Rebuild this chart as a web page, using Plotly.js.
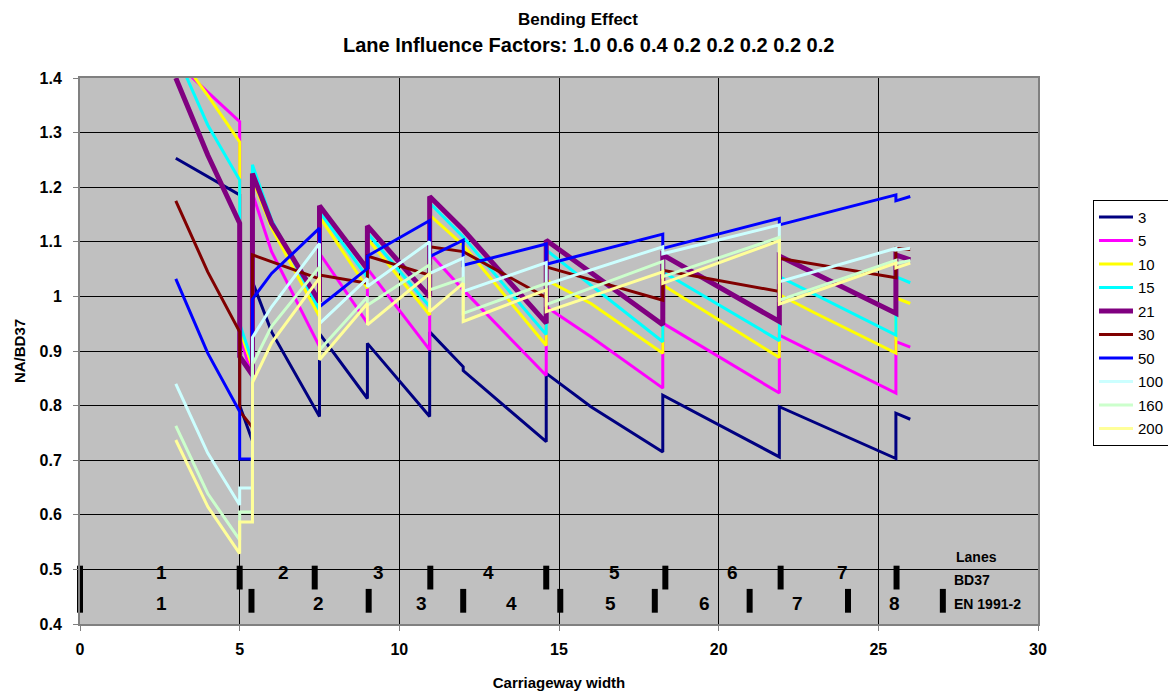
<!DOCTYPE html>
<html>
<head>
<meta charset="utf-8">
<script src="https://cdn.plot.ly/plotly-3.0.1.min.js"></script>
<style>html,body{margin:0;padding:0;background:#fff;}#chart{width:1168px;height:692px;}</style>
</head>
<body>
<div id="chart"></div>
<script>
// Carriageway widths at which the ratio was sampled (duplicated widths = jumps at lane boundaries)
const widths = [3, 4, 5, 5, 5.4, 5.4, 6, 7.5, 7.5, 9, 9, 10.95, 10.95, 12, 12, 14.6, 14.6, 16, 18.25, 18.25, 21.9, 21.9, 23, 25.55, 25.55, 26];

const seriesNames = ['3', '5', '10', '15', '21', '30', '50', '100', '160', '200'];
const seriesColors = ['#000080', '#FF00FF', '#FFFF00', '#00FFFF', '#800080', '#800000', '#0000FF', '#CCFFFF', '#CCFFCC', '#FFFF99'];

const s3   = [1.253, null, 1.186, 0.80, 0.735, 1.027, 0.935, 0.780, 0.932, 0.813, 0.914, 0.780, 0.935, 0.871, 0.864, 0.734, 0.859, 0.798, 0.715, 0.819, 0.706, 0.798, null, 0.703, 0.786, 0.775];
const s5   = [1.430, 1.374, 1.320, 0.93, 0.850, 1.189, 1.082, 0.908, 1.079, 0.951, 1.051, 0.902, 1.079, 1.012, null, 0.855, 0.981, 0.926, 0.832, 0.951, 0.823, 0.929, null, 0.823, 0.917, 0.907];
const s10  = [1.448, 1.368, 1.283, 0.94, 0.870, 1.215, 1.125, 0.963, 1.146, 1.015, 1.106, 0.966, 1.149, 1.094, null, 0.910, 1.030, 0.987, 0.896, 1.021, 0.888, 1.003, 0.970, 0.896, 0.997, 0.987];
const s15  = [1.446, 1.314, 1.213, 0.95, 0.880, 1.241, 1.140, 0.975, 1.155, 1.035, 1.116, 0.981, 1.171, 1.109, null, 0.930, 1.085, null, 0.917, 1.045, 0.919, 1.036, null, 0.929, 1.036, 1.025];
const s21  = [1.400, 1.259, 1.134, 0.89, 0.856, 1.225, 1.134, 0.990, 1.166, 1.050, 1.129, 0.999, 1.183, 1.122, null, 0.951, 1.103, null, 0.948, 1.076, 0.954, 1.074, null, 0.969, 1.076, 1.067];
const s30  = [1.175, 1.045, 0.935, 0.79, 0.760, 1.076, null, 1.032, 1.039, 1.024, 1.074, 1.039, 1.091, 1.082, null, 0.998, 1.054, null, 0.993, 1.048, 1.009, 1.070, null, 1.034, 1.088, 1.086];
const s50  = [1.032, 0.896, 0.789, 0.702, 0.702, 0.995, 1.042, 1.125, 0.981, 1.051, 1.074, 1.139, 1.073, 1.103, 1.057, 1.096, 1.059, null, 1.114, 1.088, 1.143, 1.131, null, 1.186, 1.175, 1.183];
const s100 = [0.840, 0.713, 0.618, 0.649, 0.649, 0.925, 0.981, 1.097, 0.950, 1.033, 1.018, 1.100, 1.042, 1.070, 1.009, 1.062, 1.022, null, 1.091, 1.078, 1.131, 1.027, null, 1.088, 1.085, 1.088];
const s160 = [0.763, 0.639, 0.554, 0.605, 0.605, 0.875, 0.945, 1.054, 0.902, 0.999, 0.984, 1.058, 1.012, 1.033, 0.969, 1.024, 0.985, null, 1.064, 1.036, 1.108, 0.993, null, 1.066, 1.060, 1.066];
const s200 = [0.737, 0.615, 0.529, 0.587, 0.587, 0.842, 0.915, 1.034, 0.884, 0.987, 0.948, 1.042, 0.972, 1.024, 0.954, 1.012, 0.972, null, 1.045, 1.024, 1.102, 0.986, null, 1.061, 1.052, 1.061];
const seriesValues = [s3, s5, s10, s15, s21, s30, s50, s100, s160, s200];

// Lane boundary markers and lane numbers
const bd37Bounds = [0, 5.0, 7.35, 10.97, 14.6, 18.33, 21.94, 25.57];
const enBounds = [0, 5.37, 9.04, 12.0, 15.04, 18.0, 20.97, 24.05, 27.02];
const bd37LaneX = [2.56, 6.36, 9.34, 12.78, 16.74, 20.43, 23.89];
const bd37LaneLabels = ['1', '2', '3', '4', '5', '6', '7'];
const enLaneX = [2.56, 7.46, 10.7, 13.5, 16.6, 19.56, 22.48, 25.5];
const enLaneLabels = ['1', '2', '3', '4', '5', '6', '7', '8'];

const titleLines = ['Bending Effect', 'Lane Influence Factors: 1.0 0.6 0.4 0.2 0.2 0.2 0.2 0.2'];

const FONT = 'Liberation Sans, Arial, sans-serif';

const traces = seriesNames.map((n, i) => ({
  type: 'scatter', mode: 'lines', name: n,
  x: widths, y: seriesValues[i], connectgaps: true,
  line: {color: seriesColors[i], width: n === '21' ? 5 : 3},
  legendgroup: 'g' + i
}));

const markerStyle = {symbol: 'line-ns', size: 17, color: '#000', line: {color: '#000', width: 6}};
traces.push({type: 'scatter', mode: 'markers', x: bd37Bounds, y: bd37Bounds.map(() => 0.485),
  marker: markerStyle, showlegend: false, cliponaxis: false, hoverinfo: 'skip'});
traces.push({type: 'scatter', mode: 'markers', x: enBounds, y: enBounds.map(() => 0.4425),
  marker: markerStyle, showlegend: false, cliponaxis: false, hoverinfo: 'skip'});

const plotLeft = 80, plotW = 958, plotTop = 78, plotH = 546, figH = 692;
const annotations = [];
// chart title (two centred lines)
annotations.push({x: (578 - plotLeft) / plotW, y: (figH - 20 - (figH - plotTop - plotH)) / plotH, xref: 'paper', yref: 'paper',
  text: titleLines[0], showarrow: false, xanchor: 'center', yanchor: 'middle',
  font: {family: FONT, size: 17, weight: 'bold', color: '#000'}});
annotations.push({x: (588 - plotLeft) / plotW, y: (figH - 45 - (figH - plotTop - plotH)) / plotH, xref: 'paper', yref: 'paper',
  text: titleLines[1], showarrow: false, xanchor: 'center', yanchor: 'middle',
  font: {family: FONT, size: 20, weight: 'bold', color: '#000'}});
bd37LaneX.forEach((x, i) => annotations.push({x: x, y: 0.4952, xref: 'x', yref: 'y', text: bd37LaneLabels[i], showarrow: false,
  font: {family: FONT, size: 19, weight: 'bold', color: '#000'}}));
enLaneX.forEach((x, i) => annotations.push({x: x, y: 0.4375, xref: 'x', yref: 'y', text: enLaneLabels[i], showarrow: false,
  font: {family: FONT, size: 19, weight: 'bold', color: '#000'}}));
annotations.push({x: 27.38, y: 0.5227, xref: 'x', yref: 'y', xanchor: 'left', text: 'Lanes', showarrow: false,
  font: {family: FONT, size: 14, weight: 'bold', color: '#000'}});
annotations.push({x: 27.32, y: 0.4806, xref: 'x', yref: 'y', xanchor: 'left', text: 'BD37', showarrow: false,
  font: {family: FONT, size: 14, weight: 'bold', color: '#000'}});
annotations.push({x: 27.32, y: 0.4366, xref: 'x', yref: 'y', xanchor: 'left', text: 'EN 1991-2', showarrow: false,
  font: {family: FONT, size: 14, weight: 'bold', color: '#000'}});

const layout = {
  width: 1168, height: 692,
  paper_bgcolor: '#FFFFFF', plot_bgcolor: '#C0C0C0',
  margin: {l: 80, r: 130, t: 78, b: 68, autoexpand: false},
  font: {family: FONT, color: '#000'},
  xaxis: {range: [0, 30], dtick: 5, tick0: 0, showgrid: true, gridcolor: '#000', gridwidth: 1, zeroline: false,
    showline: true, mirror: true, linecolor: '#808080', linewidth: 2,
    ticks: 'outside', ticklen: 5, tickcolor: '#808080', ticklabelstandoff: 5,
    tickfont: {family: FONT, size: 16, weight: 'bold', color: '#000'},
    title: {text: 'Carriageway width', standoff: 20, font: {family: FONT, size: 15, weight: 'bold', color: '#000'}}},
  yaxis: {range: [0.4, 1.4], dtick: 0.1, tick0: 0.4, showgrid: true, gridcolor: '#000', gridwidth: 1, zeroline: false,
    showline: true, mirror: true, linecolor: '#808080', linewidth: 2,
    ticks: 'outside', ticklen: 5, tickcolor: '#808080', ticklabelstandoff: 8,
    tickfont: {family: FONT, size: 16, weight: 'bold', color: '#000'},
    title: {text: 'NA/BD37', standoff: 10, font: {family: FONT, size: 15, weight: 'bold', color: '#000'}}},
  legend: {x: 1.0574, y: 0.777, xanchor: 'left', yanchor: 'top', bgcolor: '#FFFFFF', bordercolor: '#000', borderwidth: 1,
    font: {family: FONT, size: 15, color: '#000'}, tracegroupgap: 1, itemwidth: 34},
  annotations: annotations,
  showlegend: true
};

Plotly.newPlot('chart', traces, layout, {displayModeBar: false, staticPlot: true});
</script>
</body>
</html>
